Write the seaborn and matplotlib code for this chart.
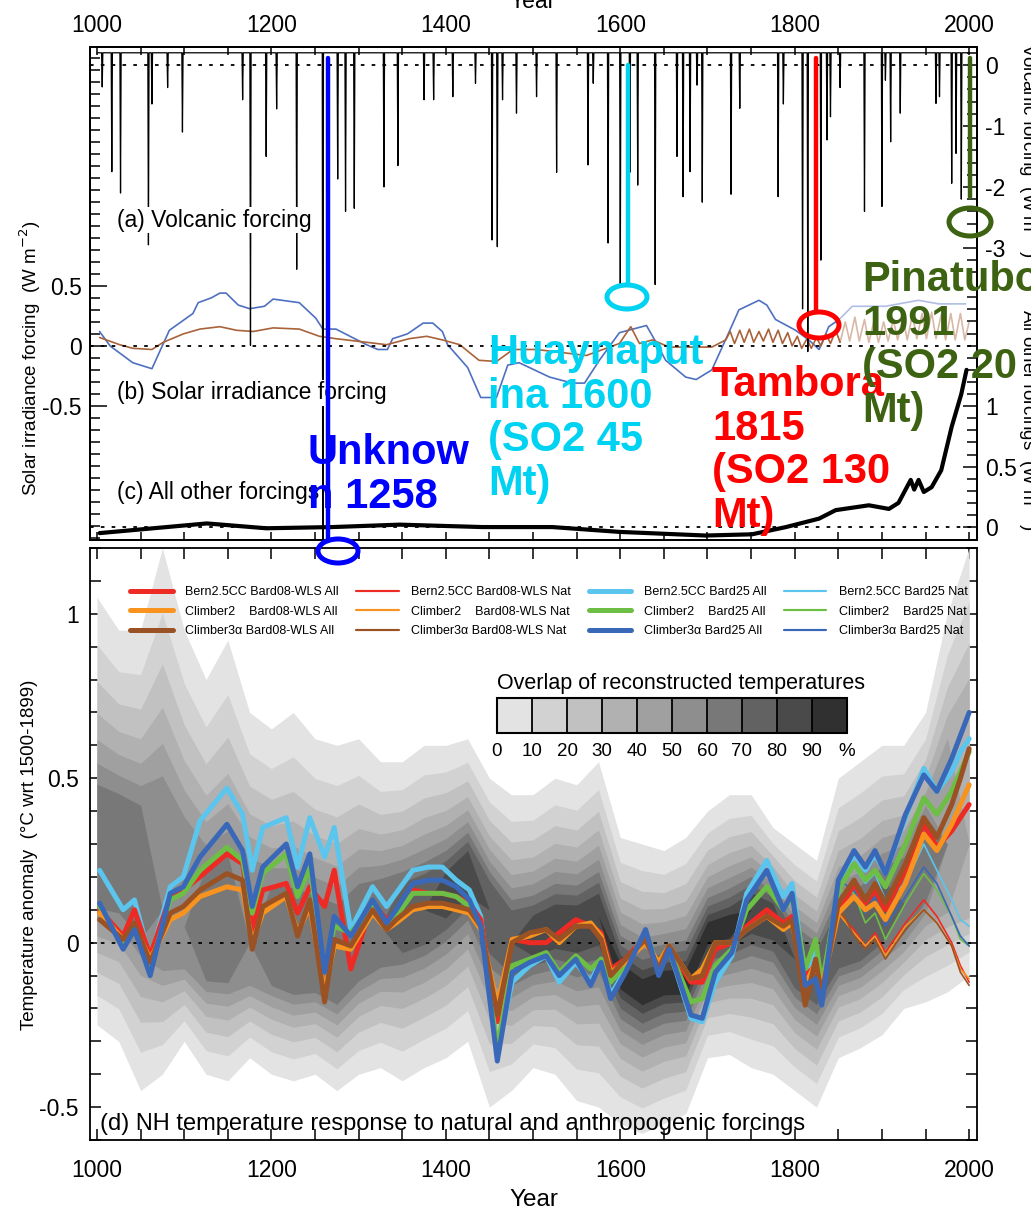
import numpy as np
import pandas as pd
import matplotlib
matplotlib.use("Agg")
import matplotlib.pyplot as plt
import seaborn as sns
from matplotlib.colors import ListedColormap, BoundaryNorm
from matplotlib.cm import ScalarMappable
from matplotlib.patches import Ellipse
from matplotlib.lines import Line2D
from matplotlib.ticker import FixedLocator, MultipleLocator

# ---------------- data: forcings ----------------
volc_base = 0.2
volc_years = [1006, 1017, 1027, 1059, 1063, 1081, 1098, 1167, 1176, 1194, 1206, 1229,
              1259, 1276, 1285, 1295, 1329, 1345, 1375, 1386, 1408, 1434, 1453, 1459,
              1465, 1481, 1504, 1527, 1563, 1569, 1586, 1600, 1611, 1620, 1640, 1665,
              1672, 1680, 1688, 1694, 1727, 1737, 1781, 1787, 1809, 1815, 1830, 1837,
              1841, 1852, 1880, 1900, 1904, 1910, 1921, 1962, 1966, 1980, 1985, 1991]
volc_depth = [-0.36, -1.75, -2.1, -2.95, -0.64, -0.37, -1.1, -0.57, -4.6, -1.5, -0.72, -3.35,
              -11.0, -1.87, -2.4, -2.35, -2.0, -1.65, -0.57, -0.57, -0.52, -0.3, -2.87, -2.98,
              -0.57, -0.79, -0.52, -1.76, -1.64, -0.3, -2.92, -3.6, -1.76, -1.97, -3.6, -1.5,
              -2.16, -1.75, -0.33, -2.25, -2.12, -0.71, -2.16, -0.64, -4.0, -4.7, -3.2, -1.23,
              -0.85, -0.37, -2.4, -2.32, -0.25, -1.26, -0.79, -0.63, -0.52, -1.94, -1.45, -2.2]

solar25_years = [1003, 1015, 1041, 1063, 1083, 1110, 1116, 1131, 1141, 1148, 1162, 1175,
                 1192, 1202, 1232, 1251, 1259, 1274, 1309, 1322, 1333, 1339, 1356, 1374,
                 1385, 1396, 1402, 1425, 1440, 1458, 1471, 1484, 1519, 1545, 1559, 1576,
                 1599, 1630, 1641, 1652, 1675, 1687, 1705, 1725, 1736, 1759, 1768, 1778,
                 1801, 1816, 1828, 1839, 1851, 1866, 1904, 1942, 1965, 1996]
solar25_vals = [0.12, 0.0, -0.14, -0.19, 0.13, 0.27, 0.36, 0.40, 0.44, 0.44, 0.34, 0.31,
                0.33, 0.39, 0.36, 0.23, 0.14, 0.14, 0.01, -0.03, -0.03, 0.06, 0.10, 0.19,
                0.19, 0.12, 0.01, -0.18, -0.43, -0.43, -0.16, -0.14, -0.26, -0.31, -0.31, -0.12,
                0.11, 0.17, 0.03, -0.12, -0.26, -0.28, -0.20, 0.12, 0.30, 0.38, 0.34, 0.22,
                0.13, 0.05, -0.03, 0.16, 0.22, 0.33, 0.33, 0.38, 0.35, 0.35]

solar08_years = [1003, 1026, 1041, 1063, 1076, 1099, 1118, 1141, 1160, 1179, 1202, 1232,
                 1255, 1274, 1309, 1332, 1358, 1378, 1396, 1416, 1438, 1458, 1477, 1504,
                 1561, 1599, 1612, 1622, 1637, 1656, 1705, 1721, 1726, 1731, 1737, 1742,
                 1748, 1753, 1759, 1764, 1770, 1775, 1781, 1786, 1792, 1797, 1803, 1808,
                 1814, 1819, 1825, 1830, 1836, 1841, 1847, 1852, 1858, 1863, 1869, 1874,
                 1880, 1885, 1891, 1896, 1902, 1907, 1913, 1918, 1924, 1929, 1935, 1940,
                 1946, 1951, 1957, 1962, 1968, 1973, 1979, 1984, 1990, 1995, 2000]
solar08_vals = [0.07, 0.01, -0.02, -0.03, 0.03, 0.10, 0.14, 0.16, 0.13, 0.12, 0.15, 0.14,
                0.08, 0.06, 0.03, 0.01, 0.06, 0.08, 0.05, 0.01, -0.12, -0.13, -0.03, -0.03,
                -0.08, 0.02, 0.16, 0.02, 0.05, -0.01, -0.01, 0.05, 0.12, 0.02, 0.13, 0.03,
                0.14, 0.03, 0.12, 0.04, 0.14, 0.03, 0.13, 0.02, 0.11, 0.0, 0.08, -0.02,
                0.06, -0.02, 0.07, 0.0, 0.10, 0.02, 0.13, 0.03, 0.20, 0.04, 0.24, 0.04,
                0.22, 0.03, 0.21, 0.03, 0.20, 0.04, 0.22, 0.05, 0.24, 0.05, 0.26, 0.06,
                0.27, 0.06, 0.28, 0.06, 0.26, 0.05, 0.27, 0.05, 0.27, 0.05, 0.20]

other_years = [1003, 1126, 1194, 1270, 1347, 1442, 1522, 1599, 1698, 1751, 1790, 1828,
               1847, 1885, 1908, 1919, 1933, 1937, 1942, 1948, 1957, 1968, 1980, 1991, 1997]
other_vals = [-0.05, 0.03, -0.01, 0.0, 0.02, 0.0, 0.0, -0.04, -0.07, -0.06, 0.0, 0.07,
              0.14, 0.18, 0.15, 0.20, 0.39, 0.31, 0.39, 0.29, 0.33, 0.47, 0.83, 1.10, 1.30]

# ---------------- data: reconstructed temperature overlap ----------------
overlap_years = list(range(1000, 2001, 25))
overlap_upper = [1.05, 0.95, 0.95, 1.20, 0.95, 0.80, 0.92, 0.70, 0.65, 0.70, 0.62, 0.60,
                 0.62, 0.55, 0.55, 0.60, 0.60, 0.62, 0.50, 0.45, 0.45, 0.50, 0.48, 0.55,
                 0.32, 0.30, 0.28, 0.32, 0.40, 0.45, 0.45, 0.35, 0.30, 0.25, 0.50, 0.55,
                 0.60, 0.60, 0.70, 1.00, 1.20]
overlap_lower = [-0.25, -0.30, -0.45, -0.40, -0.30, -0.40, -0.42, -0.35, -0.40, -0.42, -0.40, -0.45,
                 -0.40, -0.38, -0.42, -0.38, -0.35, -0.30, -0.50, -0.45, -0.38, -0.40, -0.48, -0.50,
                 -0.55, -0.58, -0.55, -0.52, -0.35, -0.34, -0.38, -0.40, -0.45, -0.50, -0.35, -0.32,
                 -0.28, -0.20, -0.18, -0.15, -0.10]
overlap_center = [0.25, 0.25, 0.20, 0.10, 0.05, 0.00, 0.00, 0.00, -0.02, -0.05, -0.05, -0.08,
                  0.00, 0.05, 0.08, 0.10, 0.15, 0.22, 0.10, 0.00, 0.02, 0.05, 0.05, 0.08,
                  -0.10, -0.15, -0.12, -0.12, 0.03, 0.05, 0.10, 0.08, -0.05, -0.10, 0.00, 0.02,
                  0.08, 0.12, 0.25, 0.30, 0.30]
overlap_peak = [6, 6, 6, 5, 5, 6, 6, 5, 6, 6, 6, 6, 6, 6, 7, 7, 8, 8, 7, 7, 8, 8, 8, 8,
                9, 9, 9, 9, 9, 9, 8, 8, 7, 7, 7, 7, 7, 6, 6, 4, 3]
overlap_pct = ["0", "10", "20", "30", "40", "50", "60", "70", "80", "90", "%"]

# ---------------- data: simulated NH temperature ----------------
temp_years = [1003, 1030, 1043, 1061, 1084, 1099, 1118, 1149, 1167, 1178, 1190, 1217,
              1230, 1244, 1261, 1272, 1291, 1316, 1332, 1343, 1362, 1380, 1396, 1412,
              1427, 1440, 1459, 1476, 1496, 1515, 1530, 1549, 1566, 1578, 1589, 1606,
              1629, 1644, 1656, 1681, 1694, 1709, 1728, 1745, 1768, 1787, 1797, 1812,
              1824, 1831, 1850, 1868, 1881, 1892, 1904, 1927, 1948, 1963, 1980, 1990, 2000]
bern_b25_all = [0.22, 0.10, 0.13, -0.05, 0.17, 0.20, 0.37, 0.47, 0.39, 0.22, 0.35, 0.38,
                0.23, 0.38, 0.26, 0.35, 0.04, 0.17, 0.11, 0.15, 0.22, 0.23, 0.23, 0.19,
                0.16, 0.08, -0.33, -0.12, -0.07, -0.04, -0.12, -0.06, -0.12, -0.05, -0.16, -0.08,
                0.03, -0.09, -0.02, -0.23, -0.24, -0.12, -0.04, 0.15, 0.25, 0.14, 0.18, -0.10,
                -0.01, -0.15, 0.16, 0.27, 0.22, 0.27, 0.21, 0.38, 0.53, 0.46, 0.52, 0.58, 0.62]
c3_b25_all = [0.12, -0.02, 0.04, -0.10, 0.15, 0.17, 0.26, 0.36, 0.28, 0.11, 0.23, 0.30,
              0.17, 0.27, -0.09, 0.08, 0.02, 0.13, 0.06, 0.10, 0.18, 0.19, 0.19, 0.17,
              0.13, 0.05, -0.36, -0.09, -0.06, -0.04, -0.10, -0.05, -0.13, -0.06, -0.17, -0.09,
              0.04, -0.10, -0.02, -0.22, -0.23, -0.09, -0.03, 0.13, 0.22, 0.10, 0.15, -0.13,
              -0.11, -0.19, 0.19, 0.28, 0.23, 0.28, 0.21, 0.39, 0.51, 0.46, 0.56, 0.63, 0.70]
c2_b25_all = [0.11, -0.01, 0.04, -0.08, 0.13, 0.15, 0.22, 0.29, 0.25, 0.09, 0.21, 0.27,
              0.14, 0.23, -0.09, 0.05, 0.03, 0.11, 0.05, 0.08, 0.15, 0.15, 0.15, 0.14,
              0.11, 0.05, -0.32, -0.07, -0.05, -0.03, -0.09, -0.04, -0.08, -0.05, -0.12, -0.07,
              0.03, -0.08, -0.02, -0.18, -0.17, -0.07, -0.02, 0.10, 0.17, 0.10, 0.14, -0.08,
              0.01, -0.13, 0.16, 0.24, 0.19, 0.22, 0.17, 0.30, 0.44, 0.39, 0.46, 0.52, 0.58]
bern_b08_all = [0.10, 0.02, 0.10, -0.04, 0.14, 0.16, 0.20, 0.27, 0.24, 0.04, 0.16, 0.18,
                0.09, 0.17, 0.11, 0.22, -0.08, 0.12, 0.07, 0.09, 0.16, 0.15, 0.15, 0.14,
                0.12, 0.07, -0.24, 0.01, 0.00, 0.00, 0.03, 0.07, 0.05, 0.03, -0.08, -0.05,
                0.02, -0.09, -0.02, -0.12, -0.12, -0.02, 0.00, 0.05, 0.10, 0.06, 0.08, -0.10,
                -0.07, -0.13, 0.09, 0.18, 0.12, 0.16, 0.10, 0.22, 0.36, 0.29, 0.34, 0.38, 0.42]
c2_b08_all = [0.09, 0.01, 0.05, -0.05, 0.07, 0.09, 0.14, 0.17, 0.16, 0.00, 0.09, 0.14,
              0.03, 0.11, -0.15, -0.01, -0.02, 0.09, 0.04, 0.06, 0.10, 0.11, 0.11, 0.10,
              0.09, 0.04, -0.19, 0.01, 0.02, 0.04, 0.00, 0.05, 0.06, 0.02, -0.09, -0.06,
              0.00, -0.06, -0.01, -0.11, -0.08, 0.00, 0.00, 0.04, 0.08, 0.04, 0.06, -0.13,
              -0.06, -0.14, 0.09, 0.14, 0.10, 0.12, 0.07, 0.18, 0.33, 0.28, 0.36, 0.42, 0.48]
c3_b08_all = [0.07, 0.01, 0.06, -0.06, 0.09, 0.11, 0.16, 0.21, 0.19, -0.02, 0.11, 0.15,
              0.02, 0.13, -0.18, 0.01, -0.01, 0.10, 0.04, 0.07, 0.11, 0.12, 0.12, 0.11,
              0.10, 0.05, -0.22, 0.00, 0.03, 0.04, 0.01, 0.05, 0.05, 0.01, -0.10, -0.05,
              0.01, -0.08, -0.01, -0.11, -0.10, 0.00, 0.00, 0.04, 0.08, 0.05, 0.07, -0.19,
              -0.05, -0.16, 0.12, 0.19, 0.13, 0.18, 0.12, 0.24, 0.38, 0.32, 0.42, 0.50, 0.59]

nat_years = [1850, 1868, 1881, 1892, 1904, 1927, 1948, 1963, 1980, 1990, 2000]
bern_b25_nat = [0.16, 0.23, 0.18, 0.21, 0.13, 0.18, 0.30, 0.22, 0.13, 0.07, 0.05]
c3_b25_nat = [0.19, 0.16, 0.09, 0.14, 0.05, 0.14, 0.23, 0.18, 0.08, 0.02, -0.01]
c2_b25_nat = [0.16, 0.15, 0.06, 0.09, 0.01, 0.12, 0.21, 0.16, 0.08, 0.01, -0.01]
bern_b08_nat = [0.09, 0.04, -0.01, 0.03, -0.03, 0.06, 0.13, 0.08, 0.00, -0.07, -0.12]
c2_b08_nat = [0.09, 0.03, -0.01, 0.02, -0.04, 0.05, 0.10, 0.06, -0.01, -0.08, -0.11]
c3_b08_nat = [0.12, 0.02, -0.02, 0.01, -0.05, 0.04, 0.10, 0.06, -0.01, -0.09, -0.13]

# ---------------- style ----------------
C_RED, C_ORA, C_BRN = "#EE2A24", "#F7931E", "#9A5224"
C_LBL, C_GRN, C_BLU = "#5BC5EE", "#6DBE45", "#3A68B8"
GRAYS = ["#E3E3E3", "#D2D2D2", "#C1C1C1", "#B1B1B1", "#A0A0A0",
         "#8E8E8E", "#787878", "#626262", "#4A4A4A", "#303030"]
BAND_FRAC = [1.0, 0.82, 0.68, 0.56, 0.46, 0.37, 0.29, 0.22, 0.15, 0.09]
TICK_FS = 16.5
LABEL_FS = 16.5

sns.set_theme(style="ticks", rc={
    "axes.edgecolor": "black", "xtick.color": "black", "ytick.color": "black",
    "text.color": "black", "axes.labelcolor": "black", "axes.linewidth": 1.3,
})
plt.rcParams["font.family"] = ["Liberation Sans", "DejaVu Sans"]

W, H = 1031, 1222
fig = plt.figure(figsize=(W / 100, H / 100), dpi=100)


def fx(x):
    return x / W


def fy(y):
    return 1 - y / H


XLIM = (992, 2009)

# ================= top panel (three stacked scales) =================
ax_sol = fig.add_axes([fx(90), fy(540), fx(977) - fx(90), fy(47) - fy(540)])
ax_vol = ax_sol.twinx()
ax_oth = ax_sol.twinx()
for a in (ax_sol, ax_vol, ax_oth):
    a.set_xlim(*XLIM)
ax_vol.set_ylim(-7.79, 0.295)
ax_sol.set_ylim(-1.617, 2.49)
ax_oth.set_ylim(-0.107, 3.97)

# volcanic spikes
vx, vy = [1000], [volc_base]
for yr, d in zip(volc_years, volc_depth):
    vx += [yr - 0.7, yr, yr + 0.7]
    vy += [volc_base, d, volc_base]
vx.append(2000)
vy.append(volc_base)
sns.lineplot(x=vx, y=vy, ax=ax_vol, color="black", linewidth=0.9,
             estimator=None, sort=False)
ax_vol.axhline(0, color="black", ls=(0, (2, 4)), lw=1.3)

# solar irradiance (lighter after the mid-19th century)
s25 = pd.DataFrame({"year": solar25_years, "val": solar25_vals})
s08 = pd.DataFrame({"year": solar08_years, "val": solar08_vals})
for df, col, cut in ((s25, "#4F70C0", 1851), (s08, "#A9623A", 1852)):
    sns.lineplot(data=df[df.year <= cut], x="year", y="val", ax=ax_sol, color=col,
                 lw=1.2, estimator=None, sort=False)
    sns.lineplot(data=df[df.year >= cut], x="year", y="val", ax=ax_sol, color=col,
                 lw=1.2, alpha=0.45, estimator=None, sort=False)
ax_sol.axhline(0, color="black", ls=(0, (2, 4)), lw=1.3)

# all other forcings
sns.lineplot(x=other_years, y=other_vals, ax=ax_oth, color="black", lw=3.0,
             estimator=None, sort=False)
ax_oth.axhline(0, color="black", ls=(0, (2, 4)), lw=1.3)

# ticks top panel
ax_sol.xaxis.set_major_locator(MultipleLocator(200))
ax_sol.xaxis.set_minor_locator(MultipleLocator(50))
ax_sol.tick_params(axis="x", which="both", direction="in", top=True, bottom=True,
                   labeltop=True, labelbottom=False, length=6, width=1.1,
                   labelsize=TICK_FS, pad=7)
ax_sol.set_yticks([-0.5, 0, 0.5], labels=["-0.5", "0", "0.5"])
ax_sol.yaxis.set_minor_locator(FixedLocator(np.arange(-1.6, 2.45, 0.1)))
ax_sol.tick_params(axis="y", which="major", direction="in", length=12, width=1.1,
                   labelsize=TICK_FS, pad=6)
ax_sol.tick_params(axis="y", which="minor", direction="in", length=7, width=1.1)

ax_vol.set_yticks([0, -1, -2, -3], labels=["0", "-1", "-2", "-3"])
ax_vol.yaxis.set_minor_locator(FixedLocator(np.arange(-3.4, 0.25, 0.2)))
ax_vol.tick_params(axis="y", which="major", direction="in", length=10, width=1.1,
                   labelsize=TICK_FS, pad=6)
ax_vol.tick_params(axis="y", which="minor", direction="in", length=7, width=1.1)

ax_oth.set_yticks([0, 0.5, 1], labels=["0", "0.5", "1"])
ax_oth.yaxis.set_minor_locator(FixedLocator(np.arange(0, 1.95, 0.1)))
ax_oth.tick_params(axis="y", which="major", direction="in", length=10, width=1.1,
                   labelsize=TICK_FS, pad=6)
ax_oth.tick_params(axis="y", which="minor", direction="in", length=7, width=1.1)
for a in (ax_sol, ax_vol, ax_oth):
    a.set_xlabel("")
    a.set_ylabel("")

panel_box = dict(facecolor="white", edgecolor="none", pad=1.0)
for txt, ypx in (("(a) Volcanic forcing", 220), ("(b) Solar irradiance forcing", 393),
                 ("(c) All other forcings", 493)):
    ax_oth.text(fx(117), fy(ypx), txt, transform=fig.transFigure, fontsize=LABEL_FS,
                va="center", ha="left", bbox=panel_box, zorder=6)

fig.text(fx(30), fy(358), "Solar irradiance forcing  (W m$^{-2}$)", rotation=90,
         ha="center", va="center", fontsize=13.5)
fig.text(fx(1029), fy(150), "Volcanic forcing  (W m$^{-2}$)", rotation=270,
         ha="center", va="center", fontsize=13.5)
fig.text(fx(1029), fy(420), "All other forcings  (W m$^{-2}$)", rotation=270,
         ha="center", va="center", fontsize=13.5)
fig.text(fx(533), fy(1), "Year", ha="center", va="center", fontsize=TICK_FS)

# ================= bottom panel =================
ax_t = fig.add_axes([fx(90), fy(1140), fx(977) - fx(90), fy(548) - fy(1140)])
ax_t.set_xlim(*XLIM)
ax_t.set_ylim(-0.6, 1.2)

ov = pd.DataFrame({"year": overlap_years, "up": overlap_upper, "lo": overlap_lower,
                   "mid": overlap_center, "peak": overlap_peak})
for k, (col, frac) in enumerate(zip(GRAYS, BAND_FRAC)):
    on = (ov["peak"] >= k).astype(float) * frac
    upper = ov["mid"] + (ov["up"] - ov["mid"]) * on
    lower = ov["mid"] - (ov["mid"] - ov["lo"]) * on
    ax_t.fill_between(ov["year"], lower, upper, color=col, lw=0, zorder=1)

ax_t.axhline(0, color="black", ls=(0, (2, 4)), lw=1.3, zorder=2)

thick, thin = 3.6, 1.2
all_series = [(bern_b25_all, C_LBL), (bern_b08_all, C_RED), (c2_b25_all, C_GRN),
              (c2_b08_all, C_ORA), (c3_b08_all, C_BRN), (c3_b25_all, C_BLU)]
nat_series = [(bern_b08_nat, C_RED), (c2_b08_nat, C_ORA), (c3_b08_nat, C_BRN),
              (bern_b25_nat, C_LBL), (c2_b25_nat, C_GRN), (c3_b25_nat, C_BLU)]
for vals, col in nat_series:
    sns.lineplot(x=nat_years, y=vals, ax=ax_t, color=col, lw=thin, zorder=3,
                 estimator=None, sort=False)
for vals, col in all_series:
    sns.lineplot(x=temp_years, y=vals, ax=ax_t, color=col, lw=thick, zorder=4,
                 estimator=None, sort=False, solid_joinstyle="round")

ax_t.xaxis.set_major_locator(MultipleLocator(200))
ax_t.xaxis.set_minor_locator(MultipleLocator(50))
ax_t.set_yticks([-0.5, 0, 0.5, 1], labels=["-0.5", "0", "0.5", "1"])
ax_t.yaxis.set_minor_locator(MultipleLocator(0.1))
ax_t.tick_params(axis="both", which="both", direction="in", top=True, right=True,
                 length=8, width=1.1, labelsize=TICK_FS, pad=8)
ax_t.tick_params(axis="x", which="major", pad=14)
ax_t.set_xlabel("Year", fontsize=TICK_FS + 1, labelpad=5)
ax_t.set_ylabel("")
fig.text(fx(30), fy(855), "Temperature anomaly  (°C wrt 1500-1899)", rotation=90,
         ha="center", va="center", fontsize=13.5)
ax_t.text(fx(100), fy(1124), "(d) NH temperature response to natural and anthropogenic forcings",
          transform=fig.transFigure, fontsize=17, va="center", ha="left", zorder=6)

# legend
names = ["Bern2.5CC Bard08-WLS All", "Climber2    Bard08-WLS All", "Climber3\u03b1 Bard08-WLS All",
         "Bern2.5CC Bard08-WLS Nat", "Climber2    Bard08-WLS Nat", "Climber3\u03b1 Bard08-WLS Nat",
         "Bern2.5CC Bard25 All", "Climber2    Bard25 All", "Climber3\u03b1 Bard25 All",
         "Bern2.5CC Bard25 Nat", "Climber2    Bard25 Nat", "Climber3\u03b1 Bard25 Nat"]
cols = [C_RED, C_ORA, C_BRN, C_RED, C_ORA, C_BRN, C_LBL, C_GRN, C_BLU, C_LBL, C_GRN, C_BLU]
widths = [thick] * 3 + [thin * 1.3] * 3 + [thick] * 3 + [thin * 1.3] * 3
handles = [Line2D([], [], color=c, lw=w) for c, w in zip(cols, widths)]
ax_t.legend(handles, names, ncol=4, loc="upper left", frameon=False,
            bbox_to_anchor=(fx(130), fy(586)), bbox_transform=fig.transFigure,
            fontsize=9, handlelength=3.4, handletextpad=1.0, columnspacing=1.4,
            labelspacing=0.62, borderpad=0, borderaxespad=0)

# overlap colour key
cax = fig.add_axes([fx(497), fy(733), fx(847) - fx(497), fy(698) - fy(733)])
bounds = list(range(0, 101, 10))
cb = fig.colorbar(ScalarMappable(norm=BoundaryNorm(bounds, 10), cmap=ListedColormap(GRAYS)),
                  cax=cax, orientation="horizontal", ticks=bounds, drawedges=True)
cb.set_ticklabels(overlap_pct)
cb.outline.set_linewidth(1.5)
cb.dividers.set_linewidth(1.3)
cax.tick_params(length=0, labelsize=13.5, pad=7)
fig.text(fx(497), fy(689), "Overlap of reconstructed temperatures", fontsize=15.5,
         ha="left", va="baseline")

# ================= eruption call-outs =================
callouts = [
    ("Unknow\nn 1258", "#0000FF", 328, 58, 541, 338, 551, 40, 24, 308, 433),
    ("Huaynaput\nina 1600\n(SO2 45\nMt)", "#00D2F2", 628, 65, 285, 627, 297, 40, 24, 488, 333),
    ("Tambora\n1815\n(SO2 130\nMt)", "#FF0000", 816, 58, 312, 819, 325, 40, 26, 712, 365),
    ("Pinatubo\n1991\n(SO2 20\nMt)", "#3D6312", 970, 58, 197, 970, 222, 42, 28, 862, 260),
]
for txt, col, lx, ly0, ly1, ex, ey, ew, eh, tx, ty in callouts:
    fig.add_artist(Line2D([fx(lx), fx(lx)], [fy(ly0), fy(ly1)], transform=fig.transFigure,
                          color=col, lw=3.2, zorder=10))
    fig.add_artist(Ellipse((fx(ex), fy(ey)), ew / W, eh / H, transform=fig.transFigure,
                           fill=False, edgecolor=col, lw=3.6, zorder=10))
    fig.text(fx(tx), fy(ty), txt, color=col, fontsize=30, fontweight="bold",
             ha="left", va="top", linespacing=1.12, zorder=11)

fig.savefig("out.png", dpi=100)
